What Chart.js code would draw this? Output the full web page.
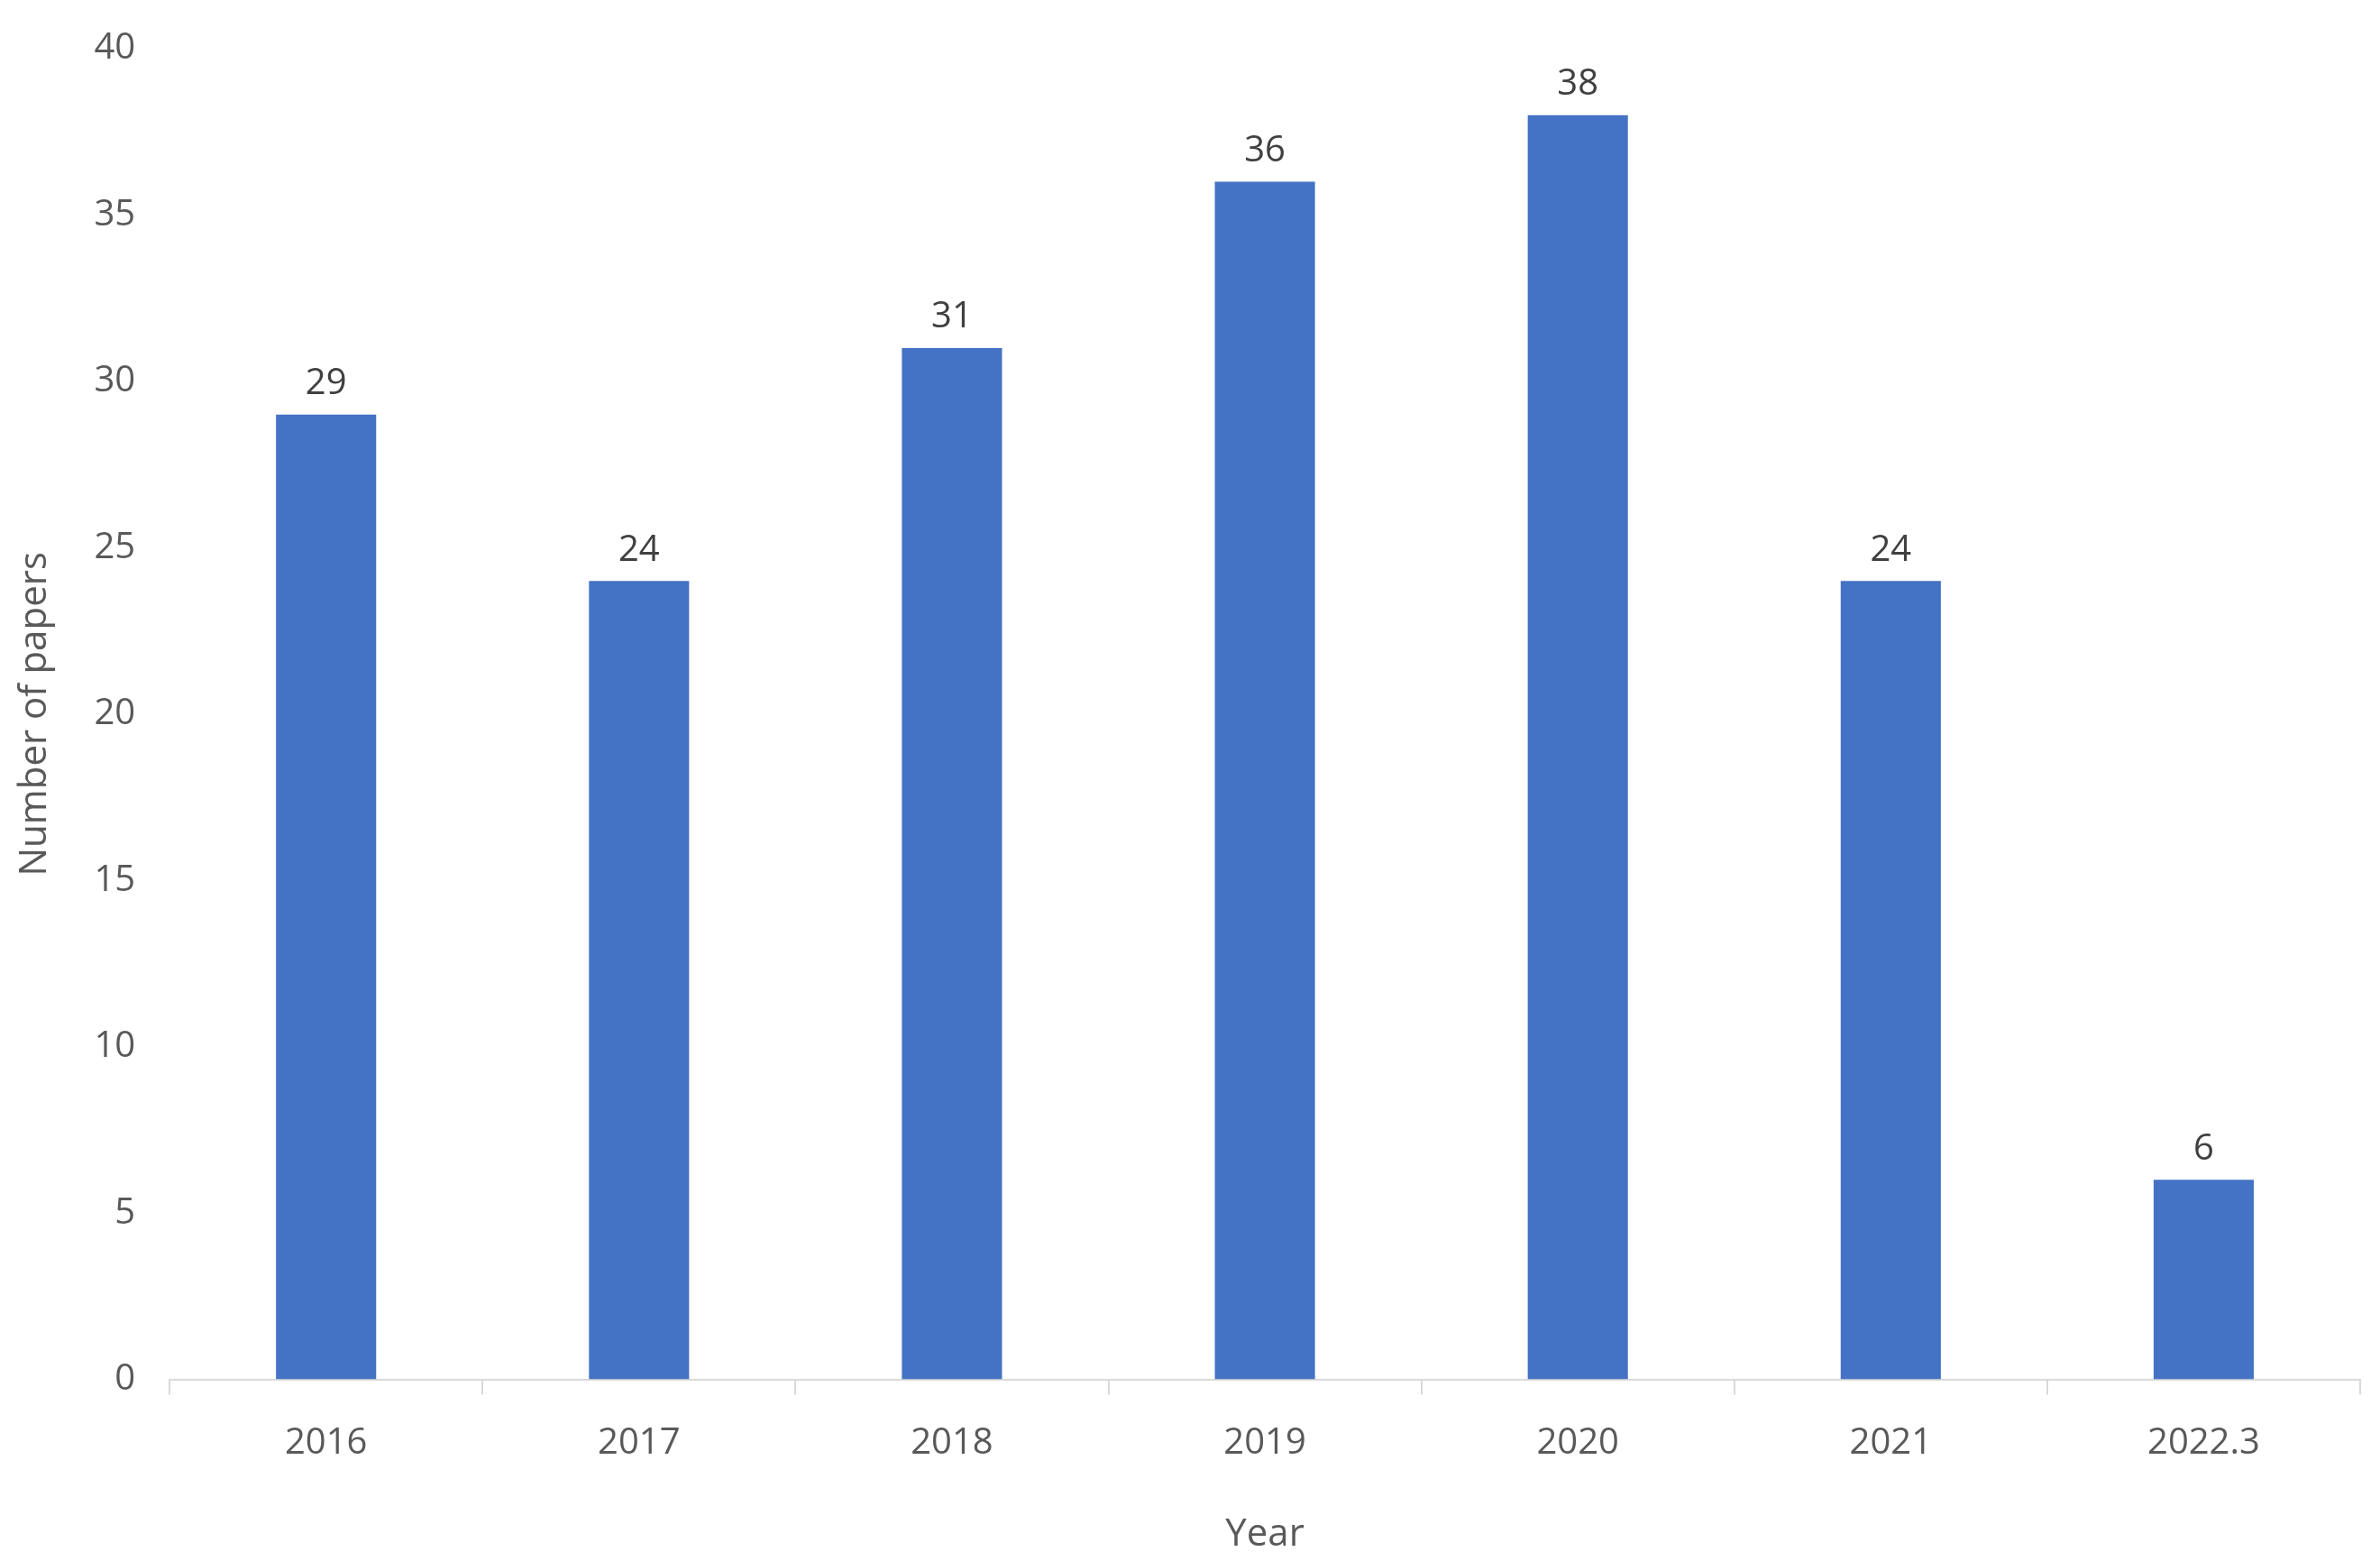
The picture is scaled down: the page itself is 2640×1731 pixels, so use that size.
<!DOCTYPE html>
<html>
<head>
<meta charset="utf-8">
<script src="https://cdn.jsdelivr.net/npm/chart.js@4"></script>
<style>
  html, body { margin: 0; padding: 0; background: #fff; }
  #wrap { width: 2640px; height: 1731px; }
</style>
</head>
<body>
<div id="wrap"><canvas id="myChart"></canvas></div>
<script>
var years = ['2016', '2017', '2018', '2019', '2020', '2021', '2022.3'];
var papers = [29, 24, 31, 36, 38, 24, 6];
var yTicks = [0, 5, 10, 15, 20, 25, 30, 35, 40];

var fontFamily = '"Open Sans", "Liberation Sans", sans-serif';
var gray = '#595959';

// draws the value above each bar
var barLabels = {
    id: 'barLabels',
    afterDatasetsDraw: function (chart) {
        var ctx = chart.ctx;
        var meta = chart.getDatasetMeta(0);
        ctx.save();
        ctx.font = '40px ' + fontFamily;
        ctx.fillStyle = '#404040';
        ctx.textAlign = 'center';
        ctx.textBaseline = 'bottom';
        meta.data.forEach(function (bar, i) {
            ctx.fillText(papers[i], bar.x, bar.y - 14);
        });
        ctx.restore();
    }
};

Chart.defaults.font.family = fontFamily;
Chart.defaults.color = gray;

var config = {
    type: 'bar',
    data: {
        labels: years,
        datasets: [{
            data: papers,
            backgroundColor: '#4472C4',
            categoryPercentage: 1.0,
            barPercentage: 0.32
        }]
    },
    options: {
        responsive: true,
        maintainAspectRatio: false,
        animation: false,
        layout: { padding: { left: 10, right: 22, top: 10, bottom: 0 } },
        plugins: { legend: { display: false }, tooltip: { enabled: false } },
        scales: {
            x: {
                offset: true,
                grid: {
                    display: true,
                    offset: true,
                    drawOnChartArea: false,
                    drawTicks: true,
                    tickLength: 17,
                    color: '#d9d9d9',
                    lineWidth: 2
                },
                border: { display: true, color: '#d9d9d9', width: 2 },
                ticks: { font: { size: 40 }, color: gray, padding: 30 },
                title: { display: true, text: 'Year', font: { size: 42 }, color: gray, padding: { top: 22 } }
            },
            y: {
                min: 0,
                max: 40,
                afterBuildTicks: function (axis) {
                    axis.ticks = yTicks.map(function (v) { return { value: v }; });
                },
                grid: { display: false },
                border: { display: false },
                ticks: { font: { size: 40 }, color: gray, padding: 30 },
                title: { display: true, text: 'Number of papers', font: { size: 42 }, color: gray, padding: { bottom: 10 } }
            }
        }
    },
    plugins: [barLabels]
};

new Chart(document.getElementById('myChart'), config);
</script>
</body>
</html>
